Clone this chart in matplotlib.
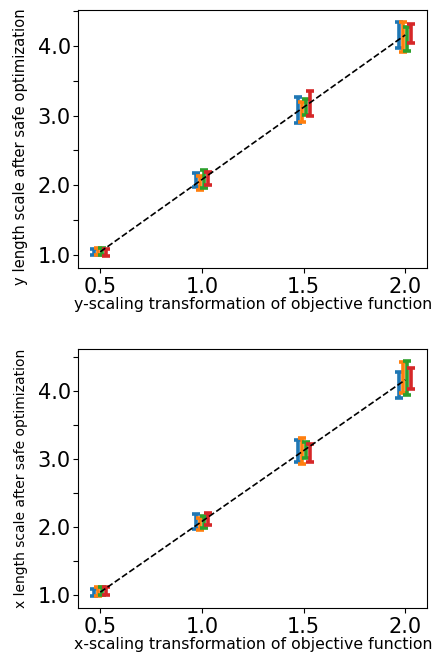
import numpy as np
import matplotlib
matplotlib.use("Agg")
import matplotlib.pyplot as plt

# scaling factors on the x axis
scales = [0.5, 1.0, 1.5, 2.0]
offsets = [-0.03, -0.01, 0.01, 0.03]
colors = ["tab:blue", "tab:orange", "tab:green", "tab:red"]

# reference line (expected length scale)
ref_line = [1.04, 2.08, 3.12, 4.16]

# y-scaling panel: lower / upper ends of the bars for each run
y_low = [
    [0.99, 1.97, 2.89, 3.97],
    [0.99, 1.93, 2.91, 3.92],
    [1.00, 1.96, 3.01, 3.93],
    [0.98, 2.00, 2.99, 4.04],
]
y_high = [
    [1.085, 2.18, 3.27, 4.34],
    [1.10, 2.13, 3.19, 4.35],
    [1.10, 2.22, 3.24, 4.27],
    [1.085, 2.19, 3.36, 4.31],
]

# x-scaling panel
x_low = [
    [0.985, 1.97, 2.96, 3.90],
    [0.985, 1.95, 2.92, 3.97],
    [1.00, 1.98, 3.01, 3.93],
    [1.00, 2.03, 2.96, 4.02],
]
x_high = [
    [1.08, 2.19, 3.27, 4.28],
    [1.11, 2.13, 3.31, 4.42],
    [1.11, 2.16, 3.25, 4.44],
    [1.12, 2.21, 3.22, 4.33],
]

yticks = [1.0, 1.5, 2.0, 2.5, 3.0, 3.5, 4.0, 4.5]
ytick_labels = ["1.0", "", "2.0", "", "3.0", "", "4.0", ""]
xticks = [0.5, 1.0, 1.5, 2.0]
xtick_labels = ["0.5", "1.0", "1.5", "2.0"]

W, H = 435, 654
fig = plt.figure(figsize=(W / 100, H / 100), dpi=100)


def panel(rect, lows, highs, xlabel, ylabel, ylabel_size, ylabel_y):
    ax = fig.add_axes(rect)
    for i in range(4):
        lo = np.array(lows[i])
        hi = np.array(highs[i])
        mid = (lo + hi) / 2
        xs = np.array(scales) + offsets[i]
        ax.errorbar(xs, mid, yerr=[mid - lo, hi - mid], fmt="none",
                    ecolor=colors[i], elinewidth=2.6, capsize=3, capthick=2.6)
    ax.plot(scales, ref_line, "k--", linewidth=1.2)
    ax.set_yticks(yticks)
    ax.set_yticklabels(ytick_labels)
    ax.set_xticks(xticks)
    ax.set_xticklabels(xtick_labels)
    ax.tick_params(labelsize=15)
    ax.tick_params(axis="y", pad=2)
    ax.set_xlabel(xlabel, fontsize=11.3, labelpad=0)
    ax.set_ylabel(ylabel, fontsize=ylabel_size)
    ax.yaxis.set_label_coords(-0.145, ylabel_y)
    return ax


ax1 = panel([78.3 / W, 1 - 267.7 / H, 349 / W, 257.7 / H], y_low, y_high,
            "y-scaling transformation of objective function",
            "y length scale after safe optimization", 10.6, 0.47)
ax2 = panel([78.3 / W, 1 - 607.7 / H, 349 / W, 258.7 / H], x_low, x_high,
            "x-scaling transformation of objective function",
            "x length scale after safe optimization", 10, 0.5)

fig.savefig("out.png", dpi=100)
